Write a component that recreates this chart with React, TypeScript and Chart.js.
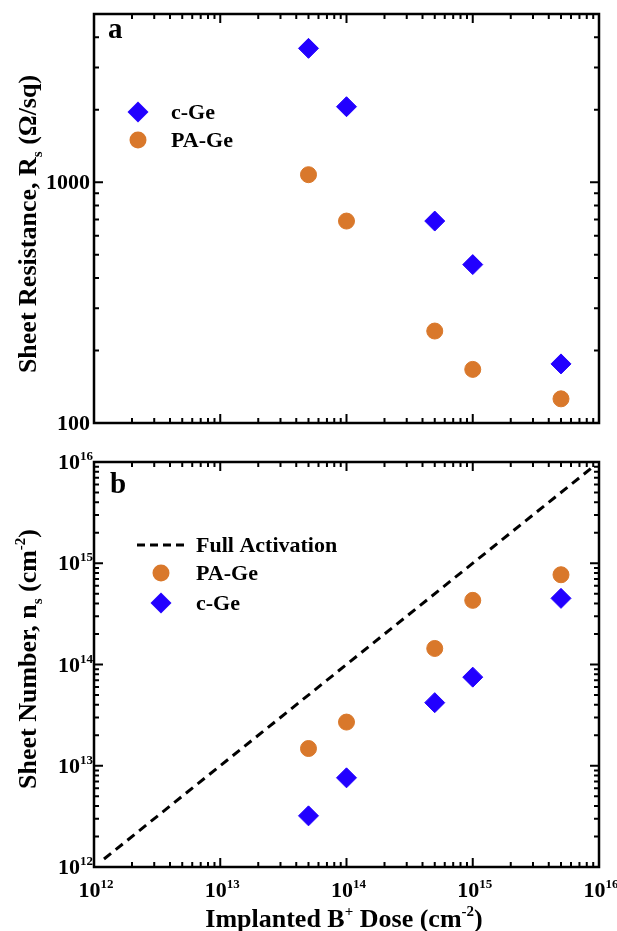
import React, { useEffect, useRef } from 'react';
import { Chart, registerables } from 'chart.js';

Chart.register(...registerables);

// ---- data ----
const doses = [5e13, 1e14, 5e14, 1e15, 5e15];
const rsCGe = [3600, 2060, 690, 455, 176];
const rsPAGe = [1075, 690, 241, 167, 126];
const nsPAGe = [1.48e13, 2.7e13, 1.44e14, 4.3e14, 7.7e14];
const nsCGe = [3.2e12, 7.6e12, 4.2e13, 7.5e13, 4.5e14];
const fullActivationDose = [1.2e12, 8.6e15];

const doseTickExponents = ['12', '13', '14', '15', '16'];
const nsTickExponents = ['12', '13', '14', '15', '16'];
const rsTickValues = [100, 1000];
const rsTickLabels = ['100', '1000'];

const BLUE = '#2200ff';
const ORANGE = '#d9782b';
const FONT = '"Liberation Serif", "Times New Roman", serif';

type Run = { t: string; size: number; dy?: number };

function runsWidth(ctx: CanvasRenderingContext2D, runs: Run[]) {
  let w = 0;
  for (const r of runs) {
    ctx.font = `bold ${r.size}px ${FONT}`;
    w += ctx.measureText(r.t).width;
  }
  return w;
}

function drawRuns(ctx: CanvasRenderingContext2D, runs: Run[], x: number, y: number, align: 'left' | 'center' | 'right') {
  const w = runsWidth(ctx, runs);
  let cx = align === 'left' ? x : align === 'center' ? x - w / 2 : x - w;
  ctx.textAlign = 'left';
  ctx.textBaseline = 'alphabetic';
  ctx.fillStyle = '#000';
  for (const r of runs) {
    ctx.font = `bold ${r.size}px ${FONT}`;
    ctx.fillText(r.t, cx, y + (r.dy || 0));
    cx += ctx.measureText(r.t).width;
  }
}

function drawRotatedRuns(ctx: CanvasRenderingContext2D, runs: Run[], baseX: number, centerY: number) {
  ctx.save();
  ctx.translate(baseX, centerY);
  ctx.rotate(-Math.PI / 2);
  drawRuns(ctx, runs, 0, 0, 'center');
  ctx.restore();
}

const MAJOR = 9;
const MINOR = 5;

function drawLogTicks(ctx: CanvasRenderingContext2D, scale: any, min: number, max: number, horizontal: boolean, area: any) {
  const e0 = Math.floor(Math.log10(min));
  const e1 = Math.ceil(Math.log10(max));
  ctx.save();
  ctx.strokeStyle = '#000';
  ctx.lineWidth = 2;
  ctx.beginPath();
  for (let e = e0; e <= e1; e++) {
    for (let m = 1; m <= 9; m++) {
      const v = m * Math.pow(10, e);
      if (v < min * 0.999 || v > max * 1.001) continue;
      const p = scale.getPixelForValue(v);
      const len = m === 1 ? MAJOR : MINOR;
      if (horizontal) {
        ctx.moveTo(p, area.bottom);
        ctx.lineTo(p, area.bottom - len);
        ctx.moveTo(p, area.top);
        ctx.lineTo(p, area.top + len);
      } else {
        ctx.moveTo(area.left, p);
        ctx.lineTo(area.left + len, p);
        ctx.moveTo(area.right, p);
        ctx.lineTo(area.right - len, p);
      }
    }
  }
  ctx.stroke();
  ctx.restore();
}

function drawFrame(ctx: CanvasRenderingContext2D, area: any) {
  ctx.save();
  ctx.strokeStyle = '#000';
  ctx.lineWidth = 2.5;
  ctx.strokeRect(area.left, area.top, area.right - area.left, area.bottom - area.top);
  ctx.restore();
}

function diamond(ctx: CanvasRenderingContext2D, x: number, y: number, r: number, color: string) {
  ctx.save();
  ctx.fillStyle = color;
  ctx.beginPath();
  ctx.moveTo(x, y - r);
  ctx.lineTo(x + r, y);
  ctx.lineTo(x, y + r);
  ctx.lineTo(x - r, y);
  ctx.closePath();
  ctx.fill();
  ctx.restore();
}

function circle(ctx: CanvasRenderingContext2D, x: number, y: number, r: number, color: string) {
  ctx.save();
  ctx.fillStyle = color;
  ctx.beginPath();
  ctx.arc(x, y, r, 0, Math.PI * 2);
  ctx.fill();
  ctx.restore();
}

const topDecor = {
  id: 'topDecor',
  afterDraw(chart: any) {
    const ctx = chart.ctx as CanvasRenderingContext2D;
    const area = chart.chartArea;
    const xs = chart.scales.x;
    const ys = chart.scales.y;
    drawFrame(ctx, area);
    drawLogTicks(ctx, xs, 1e12, 1e16, true, area);
    drawLogTicks(ctx, ys, 100, 5000, false, area);
    rsTickValues.forEach((v, i) => {
      const p = ys.getPixelForValue(v);
      drawRuns(ctx, [{ t: rsTickLabels[i], size: 22 }], area.left - 4, p + 7, 'right');
    });
    drawRotatedRuns(
      ctx,
      [
        { t: 'Sheet Resistance, R', size: 26 },
        { t: 's', size: 15, dy: 6 },
        { t: ' (\u03A9/sq)', size: 26 },
      ],
      36,
      224
    );
    drawRuns(ctx, [{ t: 'a', size: 29 }], 108, 38, 'left');
    // legend
    diamond(ctx, 138, 112, 10.5, BLUE);
    drawRuns(ctx, [{ t: 'c-Ge', size: 22 }], 171, 119, 'left');
    circle(ctx, 138, 140, 8.5, ORANGE);
    drawRuns(ctx, [{ t: 'PA-Ge', size: 22 }], 171, 147, 'left');
  },
};

const botDecor = {
  id: 'botDecor',
  afterDraw(chart: any) {
    const ctx = chart.ctx as CanvasRenderingContext2D;
    const area = chart.chartArea;
    const xs = chart.scales.x;
    const ys = chart.scales.y;
    drawFrame(ctx, area);
    drawLogTicks(ctx, xs, 1e12, 1e16, true, area);
    drawLogTicks(ctx, ys, 1e12, 1e16, false, area);
    doseTickExponents.forEach((ex) => {
      const p = xs.getPixelForValue(Math.pow(10, Number(ex)));
      drawRuns(
        ctx,
        [
          { t: '10', size: 22 },
          { t: ex, size: 13, dy: -9 },
        ],
        p + 2,
        457,
        'center'
      );
    });
    nsTickExponents.forEach((ex) => {
      const p = ys.getPixelForValue(Math.pow(10, Number(ex)));
      drawRuns(
        ctx,
        [
          { t: '10', size: 22 },
          { t: ex, size: 13, dy: -9 },
        ],
        area.left - 1,
        p + 7,
        'right'
      );
    });
    drawRotatedRuns(
      ctx,
      [
        { t: 'Sheet Number, n', size: 26 },
        { t: 's', size: 15, dy: 6 },
        { t: ' (cm', size: 26 },
        { t: '-2', size: 15, dy: -11 },
        { t: ')', size: 26 },
      ],
      36,
      219
    );
    drawRuns(
      ctx,
      [
        { t: 'Implanted B', size: 26 },
        { t: '+', size: 15, dy: -11 },
        { t: ' Dose (cm', size: 26 },
        { t: '-2', size: 15, dy: -11 },
        { t: ')', size: 26 },
      ],
      344,
      487,
      'center'
    );
    drawRuns(ctx, [{ t: 'b', size: 29 }], 110, 53, 'left');
    // legend
    ctx.save();
    ctx.strokeStyle = '#000';
    ctx.lineWidth = 3;
    ctx.setLineDash([8, 5]);
    ctx.beginPath();
    ctx.moveTo(137, 105);
    ctx.lineTo(185, 105);
    ctx.stroke();
    ctx.restore();
    drawRuns(ctx, [{ t: 'Full Activation', size: 22 }], 196, 112, 'left');
    circle(ctx, 161, 133, 8.5, ORANGE);
    drawRuns(ctx, [{ t: 'PA-Ge', size: 22 }], 196, 140, 'left');
    diamond(ctx, 161, 163, 10.5, BLUE);
    drawRuns(ctx, [{ t: 'c-Ge', size: 22 }], 196, 170, 'left');
  },
};

function pts(xv: number[], yv: number[]) {
  return xv.map((x, i) => ({ x, y: yv[i] }));
}

export default function App() {
  const topRef = useRef<HTMLCanvasElement>(null);
  const botRef = useRef<HTMLCanvasElement>(null);

  useEffect(() => {
    const logScale = (min: number, max: number) => ({
      type: 'logarithmic' as const,
      min,
      max,
      display: false,
    });
    const c1 = new Chart(topRef.current!, {
      type: 'scatter',
      data: {
        datasets: [
          {
            label: 'c-Ge',
            data: pts(doses, rsCGe),
            pointStyle: 'rectRot',
            pointRadius: 10,
            backgroundColor: BLUE,
            borderColor: BLUE,
            borderWidth: 1,
          },
          {
            label: 'PA-Ge',
            data: pts(doses, rsPAGe),
            pointStyle: 'circle',
            pointRadius: 8,
            backgroundColor: ORANGE,
            borderColor: ORANGE,
            borderWidth: 1,
          },
        ],
      },
      options: {
        responsive: false,
        animation: false,
        layout: { padding: { left: 94, top: 14, right: 18, bottom: 17 } },
        scales: { x: logScale(1e12, 1e16), y: logScale(100, 5000) },
        plugins: { legend: { display: false }, tooltip: { enabled: false } },
      },
      plugins: [topDecor],
    });

    const c2 = new Chart(botRef.current!, {
      type: 'scatter',
      data: {
        datasets: [
          {
            label: 'Full Activation',
            data: pts(fullActivationDose, fullActivationDose),
            showLine: true,
            pointRadius: 0,
            borderColor: '#000',
            borderWidth: 3,
            borderDash: [9, 6],
            fill: false,
          },
          {
            label: 'PA-Ge',
            data: pts(doses, nsPAGe),
            pointStyle: 'circle',
            pointRadius: 8,
            backgroundColor: ORANGE,
            borderColor: ORANGE,
            borderWidth: 1,
          },
          {
            label: 'c-Ge',
            data: pts(doses, nsCGe),
            pointStyle: 'rectRot',
            pointRadius: 10,
            backgroundColor: BLUE,
            borderColor: BLUE,
            borderWidth: 1,
          },
        ],
      },
      options: {
        responsive: false,
        animation: false,
        layout: { padding: { left: 94, top: 22, right: 18, bottom: 64 } },
        scales: { x: logScale(1e12, 1e16), y: logScale(1e12, 1e16) },
        plugins: { legend: { display: false }, tooltip: { enabled: false } },
      },
      plugins: [botDecor],
    });

    return () => {
      c1.destroy();
      c2.destroy();
    };
  }, []);

  return (
    <div style={{ position: 'absolute', left: 0, top: 0, width: 617, height: 931, background: '#fff', overflow: 'hidden' }}>
      <canvas ref={topRef} width={617} height={440} style={{ position: 'absolute', left: 0, top: 0 }} />
      <canvas ref={botRef} width={617} height={491} style={{ position: 'absolute', left: 0, top: 440 }} />
    </div>
  );
}
